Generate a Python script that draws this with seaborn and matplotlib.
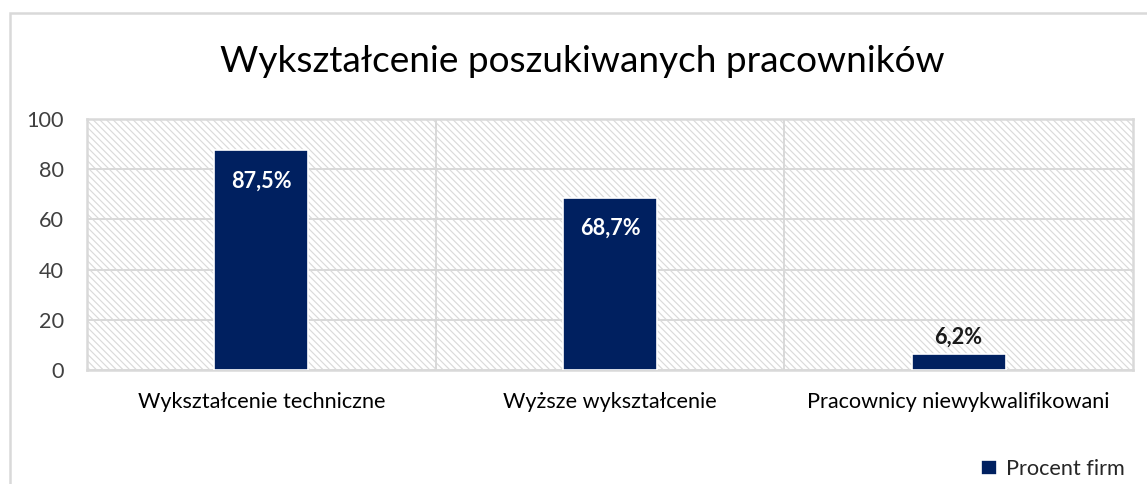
import matplotlib
matplotlib.use("Agg")
import matplotlib.pyplot as plt
from matplotlib.patches import Rectangle, Patch
import seaborn as sns
import pandas as pd

categories = ["Wykształcenie techniczne", "Wyższe wykształcenie", "Pracownicy niewykwalifikowani"]
values = [87.5, 68.7, 6.2]
value_labels = ["87,5%", "68,7%", "6,2%"]
series_name = "Procent firm"
title = "Wykształcenie poszukiwanych pracowników"
yticks = [0, 20, 40, 60, 80, 100]

navy = "#002060"
grey = "#d9d9d9"

sns.set_style("white")
plt.rcParams["font.family"] = ["Lato", "DejaVu Sans"]
plt.rcParams["hatch.linewidth"] = 0.7

DPI = 120
fig = plt.figure(figsize=(1147 / DPI, 484 / DPI), dpi=DPI)

# outer chart frame (partially cropped in the reference)
fig.patches.append(Rectangle((10 / 1147, -0.1), 1.2, 0.1 + (484 - 13) / 484,
                             transform=fig.transFigure, fill=False,
                             edgecolor=grey, linewidth=1.5))

ax = fig.add_axes([87 / 1147, (484 - 370) / 484, (1133 - 87) / 1147, 251 / 484])
# hatched plot-area background
ax.add_patch(Rectangle((0, 0), 1, 1, transform=ax.transAxes, facecolor="white",
                       edgecolor="#dadada", hatch="\\" * 6, linewidth=0, zorder=0))

df = pd.DataFrame({"cat": categories, "val": values})
sns.barplot(data=df, x="cat", y="val", color=navy, saturation=1, width=0.27, ax=ax, zorder=3)

ax.set_ylim(0, 100)
ax.set_xlim(-0.5, 2.5)
ax.set_yticks(yticks)
ax.yaxis.grid(True, color=grey, linewidth=1.2, zorder=1)
for xb in [0.5, 1.5]:
    ax.axvline(xb, color=grey, linewidth=1.2, zorder=1)
ax.set_axisbelow(True)
for s in ax.spines.values():
    s.set_color(grey)
    s.set_linewidth(1.5)

ax.tick_params(axis="both", length=0, labelsize=13, colors="#404040")
ax.tick_params(axis="x", pad=13, colors="#000000")
ax.tick_params(axis="y", pad=14)
ax.set_xlabel("")
ax.set_ylabel("")

for i, (v, lab) in enumerate(zip(values, value_labels)):
    if v > 20:
        ax.text(i, v - 8, lab, ha="center", va="top", color="white",
                fontsize=13, fontweight="bold", zorder=4)
    else:
        ax.text(i, v + 2.5, lab, ha="center", va="bottom", color="#1a1a1a",
                fontsize=13, fontweight="bold", zorder=4)

fig.text(582 / 1147, (484 - 62) / 484, title, ha="center", va="center",
         fontsize=22.2, color="black")

fig.legend(handles=[Patch(facecolor=navy, label=series_name)],
           loc="center right", bbox_to_anchor=(1133 / 1147, (484 - 469) / 484),
           frameon=False, fontsize=13, handlelength=0.75, handleheight=0.75,
           handletextpad=0.4, borderaxespad=0)

fig.savefig("out.png", dpi=DPI)
